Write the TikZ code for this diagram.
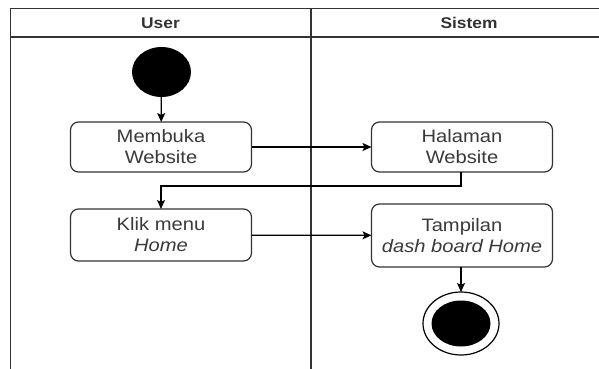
\documentclass[tikz,border=0pt]{standalone}
\usepackage{fontspec}
\setmainfont[FakeStretch=1.12]{Liberation Sans}
\usepackage{tikz}
\usetikzlibrary{arrows.meta,shapes.geometric}

\definecolor{lanegray}{HTML}{333333}
\definecolor{textgray}{HTML}{3A3A3A}

\tikzset{
    activity/.style={draw=lanegray, line width=1.2pt, rounded corners=8pt, fill=white,
        minimum width=181pt, minimum height=50pt, inner sep=0pt, outer sep=0pt,
        align=center, text=textgray, font=\fontsize{18}{21}\selectfont},
    lanehead/.style={text=lanegray, font=\fontsize{15.5}{18}\selectfont\bfseries},
    lane/.style={draw=lanegray, line width=1.5pt},
    flow/.style={draw=black, line width=1.2pt, -{Stealth[length=9pt,width=8pt,inset=2pt]}}
}

\begin{document}
\begin{tikzpicture}[x=1pt, y=-1pt]
    \useasboundingbox (0,0) rectangle (599,369);

    % The lanes
    \draw[lane] (10.5,369) -- (10.5,8.5) -- (599,8.5);
    \draw[lane] (10.5,37) -- (599,37);
    \draw[lane] (311,8.5) -- (311,369);
    \node[lanehead] (user) at (160.5,23) {User};
    \node[lanehead] (sistem) at (469,23) {Sistem};

    % Start and end
    \node[ellipse, fill=black, minimum width=59pt, minimum height=50pt, inner sep=0pt, outer sep=0pt] (start) at (161.5,72) {};
    \node[ellipse, draw=black, line width=1.2pt, minimum width=76pt, minimum height=63pt, inner sep=0pt, outer sep=0pt] (endout) at (461,323.5) {};
    \node[ellipse, fill=black, minimum width=59pt, minimum height=46pt, inner sep=0pt] (endin) at (endout.center) {};

    % Activities
    \node[activity] (membuka) at (161,147) {Membuka\\Website};
    \node[activity] (halaman) at (462,147) {Halaman\\Website};
    \node[activity, minimum height=52pt] (klik) at (161,235) {Klik menu\\\textit{Home}};
    \node[activity, minimum height=63pt] (tampilan) at (462,235.5) {Tampilan\\\textit{dash board Home}};

    % Flows
    \draw[flow] (start) -- (membuka);
    \draw[flow] (membuka) -- (halaman);
    \draw[flow] (halaman.south -| 461,0) -- ++(0,14) -| (klik.north);
    \draw[flow] (klik) -- (tampilan);
    \draw[flow] (tampilan.south -| endout.north) -- (endout.north);
\end{tikzpicture}
\end{document}
